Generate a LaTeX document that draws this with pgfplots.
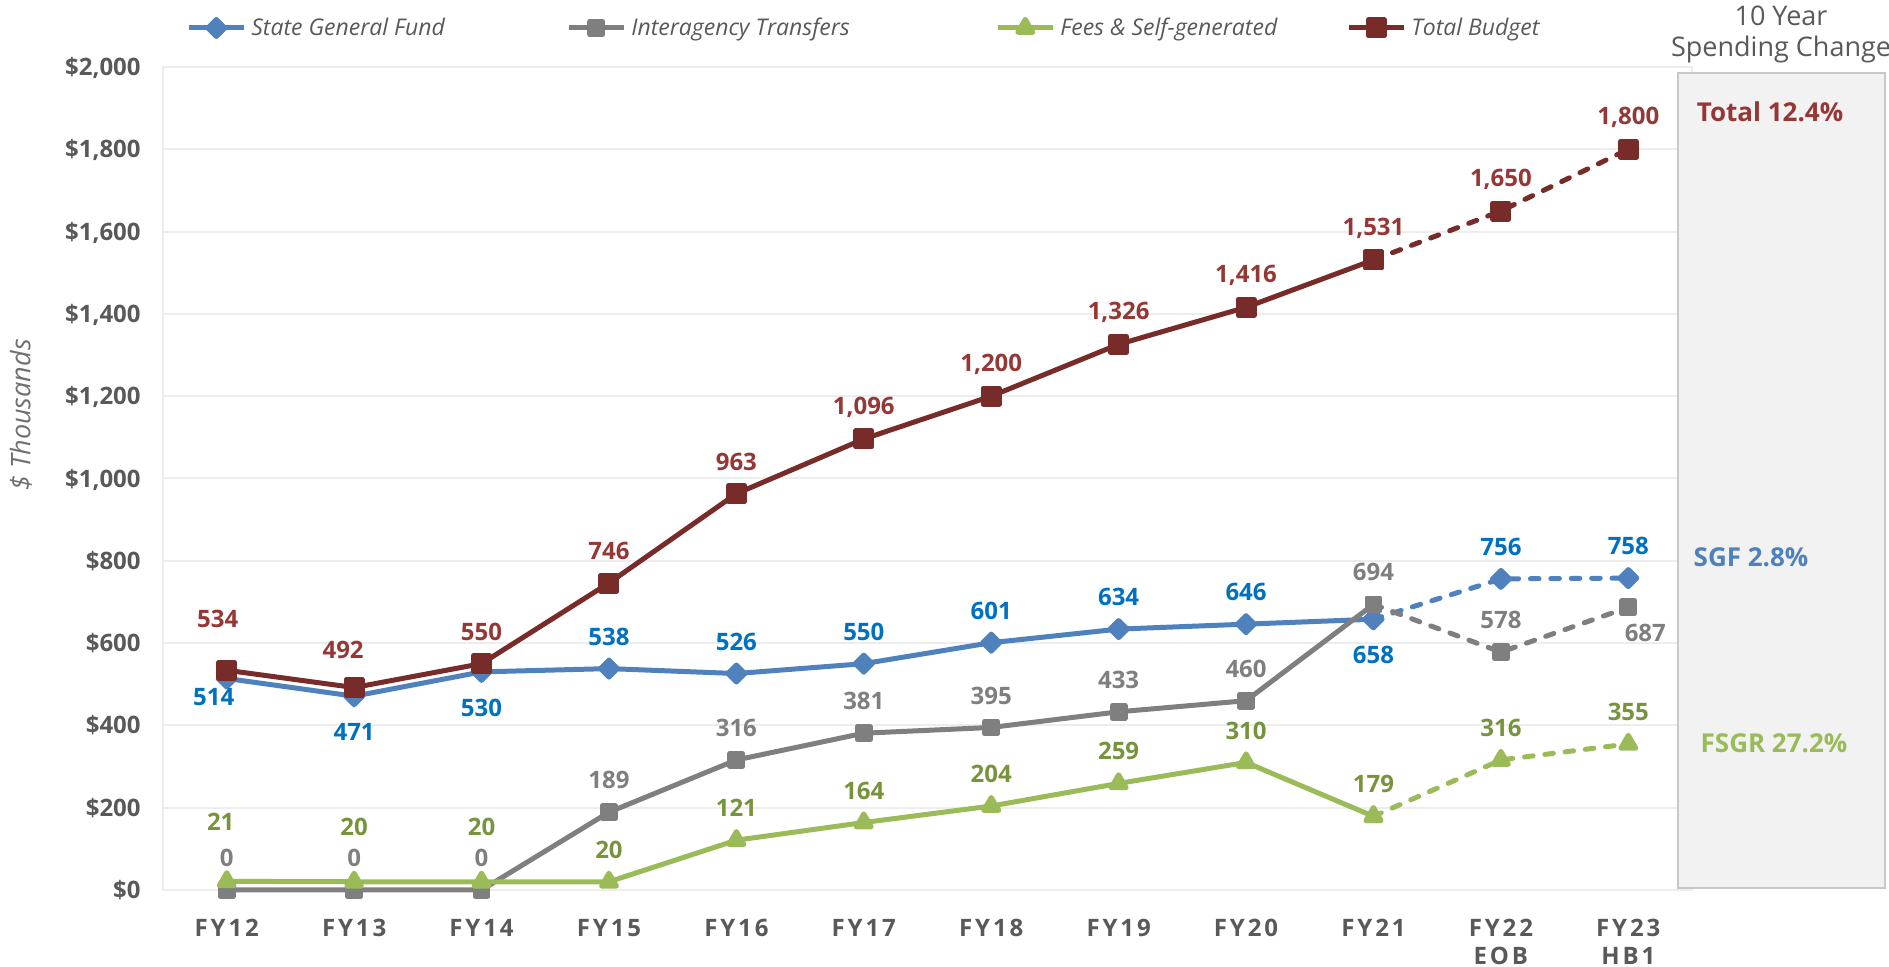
\documentclass[border=0pt]{standalone}
\usepackage{fontspec}
\setmainfont{Open Sans}
\newfontfamily\xlabfont[LetterSpace=12]{Open Sans}
\usepackage{pgfplots}
\usepackage{pgfplotstable}
\pgfplotsset{compat=1.18}

\definecolor{sgfc}{HTML}{4F81BD}
\definecolor{sgflab}{HTML}{0070C0}
\definecolor{itc}{HTML}{7F7F7F}
\definecolor{fsc}{HTML}{9BBB59}
\definecolor{fslab}{HTML}{77933C}
\definecolor{totc}{HTML}{772C2A}
\definecolor{totlab}{HTML}{953735}
\definecolor{gridc}{HTML}{EDEDED}
\definecolor{tickc}{HTML}{595959}
\definecolor{ylabc}{HTML}{707070}
\definecolor{boxfill}{HTML}{F2F2F2}
\definecolor{boxdraw}{HTML}{C8C8C8}

\pgfplotstableread{
x y lab dx dy
0 514 514 -6.5 -9.5
1 471 471 0 -18
2 530 530 0 -18
3 538 538 0 16
4 526 526 0 16
5 550 550 0 16
6 601 601 0 16
7 634 634 0 16
8 646 646 0 16
9 658 658 0 -18
10 756 756 0 16
11 758 758 0 16
}\sgf

\pgfplotstableread{
x y lab dx dy
0 0 0 0 16
1 0 0 0 16
2 0 0 0 16
3 189 189 0 16
4 316 316 0 16
5 381 381 0 16
6 395 395 0 16
7 433 433 0 16
8 460 460 0 16
9 694 694 0 16
10 578 578 0 16
11 687 687 8.5 -13
}\itr

\pgfplotstableread{
x y lab dx dy
0 21 21 -3 30
1 20 20 0 27.5
2 20 20 0 27.5
3 20 20 0 16
4 121 121 0 16
5 164 164 0 16
6 204 204 0 16
7 259 259 0 16
8 310 310 0 16
9 179 179 0 16
10 316 316 0 16
11 355 355 0 16
}\fsgr

\pgfplotstableread{
x y lab dx dy
0 534 534 -4.5 25.5
1 492 492 -5.5 19
2 550 550 0 16
3 746 746 0 16
4 963 963 0 16
5 1096 1,096 0 16
6 1200 1,200 0 16
7 1326 1,326 0 16
8 1416 1,416 0 16
9 1531 1,531 0 16
10 1650 1,650 0 16
11 1800 1,800 0 16
}\total

\pgfplotsset{
  lab/.style={draw=none, mark=none, forget plot, nodes near coords,
    point meta=explicit symbolic,
    visualization depends on={\thisrow{dx} \as \dx},
    visualization depends on={\thisrow{dy} \as \dy},
    every node near coord/.append style={anchor=center, inner sep=0pt,
      xshift=\dx pt, yshift=\dy pt,
      font=\bfseries\fontsize{12}{14}\selectfont, text=#1}},
  dashseg/.style={dash pattern=on 4.3pt off 5.9pt, line cap=round},
}

\begin{document}
\begin{tikzpicture}
\path[use as bounding box] (0,0) rectangle (944.5pt,483.5pt);
\begin{axis}[
  at={(81.5pt,38.5pt)}, anchor=south west,
  scale only axis, width=764.5pt, height=411.5pt,
  xmin=-0.5, xmax=11.5, ymin=0, ymax=2000,
  clip=false,
  xtick={0,...,11},
  xticklabels={FY12,FY13,FY14,FY15,FY16,FY17,FY18,FY19,FY20,FY21,{FY22\\EOB},{FY23\\HB1}},
  ytick={0,200,...,2000},
  yticklabels={{\$0},{\$200},{\$400},{\$600},{\$800},{\$1,000},{\$1,200},{\$1,400},{\$1,600},{\$1,800},{\$2,000}},
  major tick length=0pt,
  ymajorgrids, major grid style={draw=gridc, line width=1pt},
  axis line style={draw=gridc, line width=1pt},
  xticklabel style={font=\xlabfont\bfseries\fontsize{12}{14}\selectfont, text=tickc, align=center, anchor=north, inner sep=0pt, yshift=-14.5pt},
  yticklabel style={font=\bfseries\fontsize{12}{14}\selectfont, text=tickc, anchor=base east, inner sep=0pt, xshift=-11pt, yshift=-4.3pt},
  legend columns=4,
  legend style={at={(axis description cs:0.015,1.0474)}, anchor=west, draw=none, fill=none, inner sep=0pt,
    font=\itshape\fontsize{11.5}{13}\selectfont, text=tickc,
    /tikz/every odd column/.append style={column sep=2.5pt},
    /tikz/every even column/.append style={column sep=0pt},
    nodes={inner sep=0pt}},
  legend cell align=left,
  legend image code/.code={\draw[mark repeat=2,mark phase=2,#1] plot coordinates {(0pt,0pt)(13.75pt,0pt)(27.5pt,0pt)};},
  every axis plot/.append style={line width=2.5pt, line join=round},
]
% State General Fund
\addplot[sgfc, mark=square*, mark size=3pt, mark options={rotate=45, solid}, restrict x to domain=0:9] table[x=x,y=y] {\sgf};
\addlegendentry{\makebox[157.5pt][l]{State General Fund}}
\addplot[sgfc, dashseg, mark=square*, mark size=3pt, mark options={rotate=45, solid}, restrict x to domain=9:11, forget plot] table[x=x,y=y] {\sgf};
% Interagency Transfers
\addplot[itc, mark=square*, mark size=3.2pt, mark options={solid}, restrict x to domain=0:9] table[x=x,y=y] {\itr};
\addlegendentry{\makebox[182pt][l]{Interagency Transfers}}
\addplot[itc, dashseg, mark=square*, mark size=3.2pt, mark options={solid}, restrict x to domain=9:11, forget plot] table[x=x,y=y] {\itr};
% Fees & Self-generated
\addplot[fsc, mark=triangle*, mark size=4.3pt, mark options={solid}, restrict x to domain=0:9] table[x=x,y=y] {\fsgr};
\addlegendentry{\makebox[143pt][l]{Fees \& Self-generated}}
\addplot[fsc, dashseg, mark=triangle*, mark size=4.3pt, mark options={solid}, restrict x to domain=9:11, forget plot] table[x=x,y=y] {\fsgr};
% Total Budget
\addplot[totc, mark=square*, mark size=4pt, mark options={solid}, restrict x to domain=0:9] table[x=x,y=y] {\total};
\addlegendentry{Total Budget}
\addplot[totc, dashseg, mark=square*, mark size=4pt, mark options={solid}, restrict x to domain=9:11, forget plot] table[x=x,y=y] {\total};
% data labels
\addplot[lab=sgflab] table[x=x,y=y,meta=lab] {\sgf};
\addplot[lab=itc] table[x=x,y=y,meta=lab] {\itr};
\addplot[lab=fslab] table[x=x,y=y,meta=lab] {\fsgr};
\addplot[lab=totlab] table[x=x,y=y,meta=lab] {\total};
\end{axis}
% y axis title
\node[rotate=90, font=\itshape\fontsize{13.5}{15}\selectfont, text=ylabc] at (10.5pt,276pt) {\$ Thousands};
% right panel
\draw[fill=boxfill, draw=boxdraw, line width=1pt] (839pt,39.5pt) rectangle (942.5pt,447pt);
\node[align=center, font=\fontsize{13.5}{15.5}\selectfont, text=tickc] at (890.5pt,466.5pt) {10 Year\\Spending Change};
\node[font=\bfseries\fontsize{13}{15}\selectfont, text=totlab] at (885pt,427.5pt) {Total 12.4\%};
\node[font=\bfseries\fontsize{13}{15}\selectfont, text=sgfc] at (875.5pt,205pt) {SGF 2.8\%};
\node[font=\bfseries\fontsize{13}{15}\selectfont, text=fsc] at (887pt,112pt) {FSGR 27.2\%};
\end{tikzpicture}
\end{document}
